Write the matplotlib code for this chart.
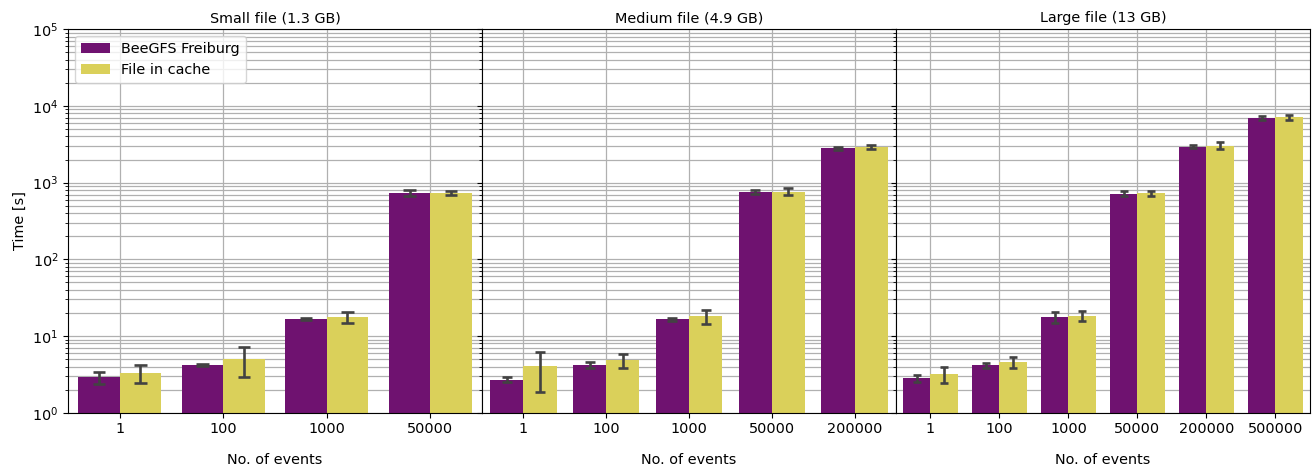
import numpy as np
import matplotlib
matplotlib.use("Agg")
import matplotlib.pyplot as plt
from matplotlib.patches import Patch

# Mean runtime [s] and spread per number of events, for each file size
small_events = ["1", "100", "1000", "50000"]
small_beegfs = [2.9, 4.2, 16.7, 730]
small_beegfs_err = [0.52, 0.1, 0.5, 60]
small_cache = [3.3, 5.0, 17.7, 735]
small_cache_err = [0.83, 2.1, 2.8, 40]

medium_events = ["1", "100", "1000", "50000", "200000"]
medium_beegfs = [2.7, 4.2, 16.6, 750, 2800]
medium_beegfs_err = [0.2, 0.4, 0.7, 45, 150]
medium_cache = [4.05, 4.8, 18.2, 760, 2920]
medium_cache_err = [2.2, 1.0, 3.8, 80, 170]

large_events = ["1", "100", "1000", "50000", "200000", "500000"]
large_beegfs = [2.8, 4.15, 17.7, 720, 2950, 6950]
large_beegfs_err = [0.3, 0.36, 3.0, 55, 150, 350]
large_cache = [3.2, 4.6, 18.2, 722, 3050, 7100]
large_cache_err = [0.77, 0.77, 2.7, 45, 300, 450]

titles = ["Small file (1.3 GB)", "Medium file (4.9 GB)", "Large file (13 GB)"]
series_names = ["BeeGFS Freiburg", "File in cache"]
colors = ["#6f1270", "#dad05a"]
err_color = "#424242"

panels = [
    (small_events, small_beegfs, small_beegfs_err, small_cache, small_cache_err),
    (medium_events, medium_beegfs, medium_beegfs_err, medium_cache, medium_cache_err),
    (large_events, large_beegfs, large_beegfs_err, large_cache, large_cache_err),
]

fs = 10.4
fig, axes = plt.subplots(1, 3, figsize=(13.16, 4.72), dpi=100, sharey=True)
fig.subplots_adjust(left=0.0517, right=0.9954, top=0.938, bottom=0.1256, wspace=0)

bar_w = 0.4
cap = 0.06
for ax, title, (events, b, be, c, ce) in zip(axes, titles, panels):
    x = np.arange(len(events))
    for off, vals, errs, col in ((-bar_w / 2, b, be, colors[0]), (bar_w / 2, c, ce, colors[1])):
        xs = x + off
        vals = np.asarray(vals)
        errs = np.asarray(errs)
        ax.bar(xs, vals, width=bar_w, color=col, bottom=0, zorder=2)
        lo = vals - errs
        hi = vals + errs
        ax.vlines(xs, lo, hi, color=err_color, lw=1.9, zorder=3)
        ax.hlines(lo, xs - cap, xs + cap, color=err_color, lw=1.9, zorder=3)
        ax.hlines(hi, xs - cap, xs + cap, color=err_color, lw=1.9, zorder=3)
    ax.set_yscale("log")
    ax.set_ylim(1, 1e5)
    ax.set_xlim(-0.5, len(events) - 0.5)
    ax.set_xticks(x)
    ax.set_xticklabels(events, fontsize=fs)
    ax.set_axisbelow(True)
    ax.grid(True, which="major", color="#b0b0b0", lw=0.9)
    ax.grid(True, which="minor", axis="y", color="#b0b0b0", lw=0.9)
    ax.set_title(title, fontsize=fs, pad=5)
    ax.set_xlabel("No. of events", fontsize=fs, labelpad=12)
    ax.tick_params(axis="y", labelsize=fs)

axes[0].set_ylabel("Time [s]", fontsize=fs)
for ax in axes[1:]:
    ax.tick_params(axis="y", which="both", labelleft=False)

handles = [Patch(facecolor=colors[0], label=series_names[0]),
           Patch(facecolor=colors[1], label=series_names[1])]
axes[0].legend(handles=handles, loc="upper left", fontsize=fs)

fig.savefig("out.png", dpi=100)
